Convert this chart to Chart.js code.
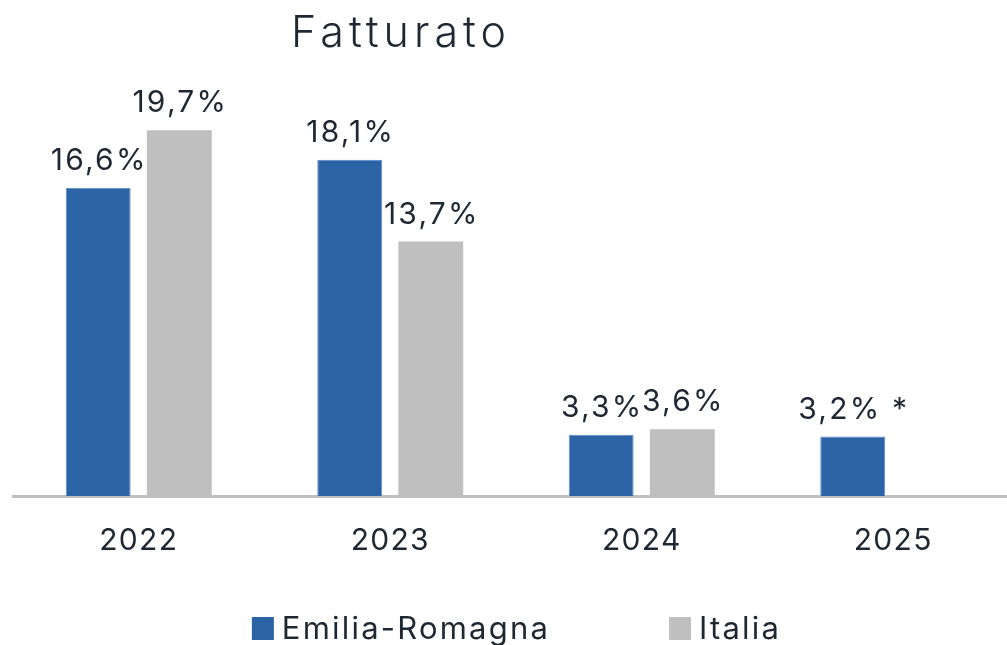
<!DOCTYPE html>
<html>
<head>
<meta charset="utf-8">
<script src="https://cdn.jsdelivr.net/npm/chart.js@4/dist/chart.umd.min.js"></script>
<style>
  html, body { margin: 0; padding: 0; background: #fff; overflow: hidden; }
  #wrap { width: 1007px; height: 645px; overflow: hidden; }
</style>
</head>
<body>
<div id="wrap"><canvas id="chart" width="1019" height="645"></canvas></div>
<script>
const years = ['2022', '2023', '2024', '2025']
const emiliaRomagna = [16.6, 18.1, 3.3, 3.2]
const italia = [19.7, 13.7, 3.6, null]
const emiliaLabels = ['16,6%', '18,1%', '3,3%', '3,2% *']
const italiaLabels = ['19,7%', '13,7%', '3,6%', '']
const titleText = 'Fatturato'

const textColor = '#1f2832'
const fontFamily = 'Inter, "Noto Sans", sans-serif'
// the plot runs a little past the right edge of the visible page
const visibleWidth = 1007

// a bit of tracking on every text, like the original
const tracking = {
  id: 'tracking',
  beforeDraw(chart) {
    chart.ctx.letterSpacing = '1.3px'
  }
}

// value labels above each bar
const barLabels = {
  id: 'barLabels',
  afterDatasetsDraw(chart) {
    const ctx = chart.ctx
    ctx.save()
    ctx.font = '400 30px ' + fontFamily
    ctx.letterSpacing = '2.2px'
    ctx.fillStyle = textColor
    ctx.textAlign = 'center'
    ctx.textBaseline = 'alphabetic'
    chart.data.datasets.forEach((ds, i) => {
      const meta = chart.getDatasetMeta(i)
      meta.data.forEach((bar, j) => {
        const txt = ds.valueLabels[j]
        if (!txt || ds.data[j] == null) return
        ctx.fillText(txt, bar.x + 1, bar.y - 18)
      })
    })
    ctx.restore()
  }
}

// title + legend drawn by hand so they sit where the original puts them
const titleAndLegend = {
  id: 'titleAndLegend',
  afterDraw(chart) {
    const ctx = chart.ctx
    ctx.save()
    ctx.fillStyle = textColor
    ctx.font = '300 43px ' + fontFamily
    ctx.letterSpacing = '5px'
    ctx.textAlign = 'center'
    ctx.textBaseline = 'alphabetic'
    ctx.fillText(titleText, 401, 47)

    ctx.font = '400 31px ' + fontFamily
    ctx.letterSpacing = '2.2px'
    ctx.textAlign = 'left'
    const box = 22, gapText = 8, gapItem = 119
    const items = chart.data.datasets.map(ds => ({ label: ds.label, color: ds.backgroundColor }))
    const widths = items.map(it => box + gapText + ctx.measureText(it.label).width)
    const total = widths.reduce((a, b) => a + b, 0) + gapItem * (items.length - 1)
    let x = visibleWidth / 2 + 13 - total / 2
    items.forEach((it, i) => {
      ctx.fillStyle = it.color
      ctx.fillRect(x, 617, box, box + 1)
      ctx.fillStyle = textColor
      ctx.fillText(it.label, x + box + gapText, 639)
      x += widths[i] + gapItem
    })
    ctx.restore()
  }
}

new Chart(document.getElementById('chart'), {
  type: 'bar',
  data: {
    labels: years,
    datasets: [
      {
        label: 'Emilia-Romagna',
        data: emiliaRomagna,
        valueLabels: emiliaLabels,
        backgroundColor: '#2b63a5',
        borderColor: '#5d8ccc',
        borderWidth: 1,
        barPercentage: 0.8,
        categoryPercentage: 0.645
      },
      {
        label: 'Italia',
        data: italia,
        valueLabels: italiaLabels,
        backgroundColor: '#bfbfbf',
        barPercentage: 0.8,
        categoryPercentage: 0.645
      }
    ]
  },
  options: {
    responsive: false,
    animation: false,
    layout: {
      padding: { top: 80, left: 13, right: 0, bottom: 67 }
    },
    plugins: {
      legend: { display: false },
      title: { display: false },
      tooltip: { enabled: false }
    },
    scales: {
      x: {
        grid: { display: false },
        border: { display: true, color: '#bfbfbf', width: 3 },
        ticks: {
          color: textColor,
          padding: 19,
          font: { family: fontFamily, size: 30 }
        }
      },
      y: {
        display: false,
        min: 0,
        max: 22.4
      }
    }
  },
  plugins: [tracking, barLabels, titleAndLegend]
})
</script>
</body>
</html>
